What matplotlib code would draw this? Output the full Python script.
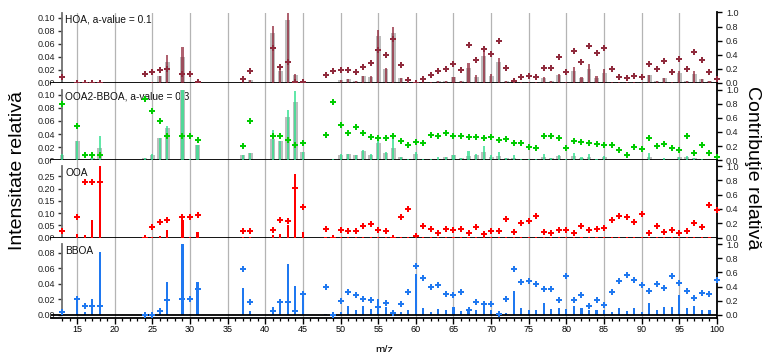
#!/usr/bin/env python3
# PMF factor profiles (stick spectra) with per-m/z relative contribution markers.
import matplotlib
matplotlib.use("Agg")
import matplotlib.pyplot as plt
from matplotlib.ticker import FixedLocator, FormatStrFormatter

plt.rcParams["font.family"] = ["Liberation Sans", "DejaVu Sans"]

FIG_W, FIG_H = 764, 352

MZ = [13, 15, 16, 17, 18, 24, 25, 26, 27, 29, 30, 31, 37, 38, 41, 42, 43, 44, 45,
      48, 49, 50, 51, 52, 53, 54, 55, 56, 57, 58, 59, 60, 61, 62, 63, 64, 65, 66,
      67, 68, 69, 70, 71, 72, 73, 74, 75, 76, 77, 78, 79, 80, 81, 82, 83, 84, 85,
      86, 87, 88, 89, 90, 91, 92, 93, 94, 95, 96, 97, 98, 99, 100]

# HOA: constrained reference (gray), factor profile (sticks), contribution (markers)
HOA_REF = [0.0, 0.0, 0.0, 0.0, 0.0, 0.0005, 0.001, 0.010, 0.0325, 0.040, 0.0, 0.0005, 0.002, 0.004,
           0.077, 0.019, 0.096, 0.012, 0.003,
           0.0005, 0.0005, 0.004, 0.006, 0.0035, 0.010, 0.009, 0.072, 0.022, 0.077, 0.007, 0.002, 0.0,
           0.001, 0.0015, 0.003, 0.0035, 0.009, 0.003, 0.023, 0.009, 0.042, 0.011, 0.032, 0.0025,
           0.0015, 0.0015, 0.001, 0.0015, 0.008, 0.0035, 0.0117, 0.0015, 0.019, 0.0076, 0.022, 0.0076,
           0.016, 0.0015, 0.001, 0.001, 0.0015, 0.001, 0.0117, 0.003, 0.008, 0.002, 0.016, 0.0035,
           0.014, 0.0056, 0.0025, 0.001]
HOA_PROFILE = [0.0, 0.0, 0.0, 0.0, 0.0, 0.0005, 0.001, 0.011, 0.043, 0.055, 0.0005, 0.0005, 0.002, 0.004,
               0.087, 0.024, 0.108, 0.014, 0.005,
               0.0005, 0.0005, 0.004, 0.006, 0.0035, 0.011, 0.011, 0.081, 0.023, 0.086, 0.007, 0.002, 0.0,
               0.001, 0.0015, 0.003, 0.0035, 0.009, 0.003, 0.030, 0.012, 0.051, 0.014, 0.038, 0.0025,
               0.0015, 0.0015, 0.001, 0.0015, 0.009, 0.0035, 0.014, 0.0015, 0.025, 0.009, 0.029, 0.011,
               0.022, 0.0015, 0.001, 0.001, 0.0015, 0.001, 0.012, 0.003, 0.008, 0.002, 0.018, 0.0035,
               0.019, 0.0056, 0.0025, 0.001]
HOA_CONTRIB = [0.08, 0.0, 0.0, 0.0, 0.0, 0.13, 0.15, 0.18, 0.20, 0.13, 0.13, 0.02, 0.05, 0.17,
               0.49, 0.23, 0.30, 0.01, 0.02,
               0.12, 0.17, 0.18, 0.18, 0.15, 0.23, 0.28, 0.47, 0.40, 0.63, 0.26, 0.04, 0.0,
               0.06, 0.12, 0.17, 0.20, 0.27, 0.19, 0.54, 0.32, 0.48, 0.41, 0.59, 0.21,
               0.03, 0.09, 0.10, 0.09, 0.21, 0.21, 0.37, 0.15, 0.46, 0.30, 0.53, 0.42,
               0.49, 0.20, 0.084, 0.065, 0.10, 0.084, 0.27, 0.20, 0.31, 0.15, 0.34, 0.20,
               0.44, 0.33, 0.15, 0.06]

# OOA2-BBOA
OOA2_REF = [0.0086, 0.029, 0.001, 0.004, 0.019, 0.0036, 0.0086, 0.034, 0.050, 0.108, 0.002, 0.024, 0.0076, 0.011,
            0.0325, 0.030, 0.066, 0.089, 0.013,
            0.001, 0.0025, 0.0086, 0.010, 0.0076, 0.0147, 0.0086, 0.027, 0.0117, 0.019, 0.0056, 0.0025, 0.010,
            0.0025, 0.002, 0.0025, 0.0056, 0.008, 0.004, 0.007, 0.008, 0.012, 0.0046, 0.007, 0.003,
            0.004, 0.002, 0.0015, 0.0015, 0.005, 0.003, 0.006, 0.0015, 0.007, 0.004, 0.0056, 0.002,
            0.005, 0.001, 0.001, 0.0005, 0.001, 0.0005, 0.0056, 0.001, 0.002, 0.001, 0.005, 0.005,
            0.0036, 0.0015, 0.001, 0.0005]
OOA2_PROFILE = [0.009, 0.029, 0.001, 0.004, 0.037, 0.003, 0.009, 0.034, 0.052, 0.108, 0.002, 0.024, 0.008, 0.011,
                0.046, 0.030, 0.076, 0.105, 0.013,
                0.001, 0.0025, 0.009, 0.010, 0.0076, 0.015, 0.009, 0.029, 0.013, 0.039, 0.0056, 0.0025, 0.013,
                0.0025, 0.002, 0.005, 0.0056, 0.008, 0.004, 0.0137, 0.010, 0.022, 0.0076, 0.012, 0.003,
                0.008, 0.002, 0.0015, 0.0015, 0.0096, 0.004, 0.008, 0.0015, 0.011, 0.005, 0.0096, 0.002,
                0.0066, 0.001, 0.001, 0.0005, 0.001, 0.0005, 0.011, 0.001, 0.0036, 0.001, 0.005, 0.006,
                0.0036, 0.0015, 0.001, 0.0005]
OOA2_CONTRIB = [0.80, 0.48, 0.07, 0.07, 0.07, 0.87, 0.70, 0.55, 0.34, 0.35, 0.35, 0.29, 0.20, 0.55,
                0.35, 0.35, 0.28, 0.22, 0.24,
                0.36, 0.83, 0.50, 0.39, 0.47, 0.38, 0.33, 0.32, 0.32, 0.34, 0.27, 0.21, 0.26,
                0.25, 0.36, 0.34, 0.38, 0.34, 0.34, 0.33, 0.33, 0.32, 0.33, 0.28, 0.30,
                0.245, 0.245, 0.19, 0.17, 0.35, 0.35, 0.32, 0.18, 0.27, 0.26, 0.245, 0.23,
                0.21, 0.21, 0.14, 0.075, 0.19, 0.155, 0.32, 0.20, 0.23, 0.18, 0.14, 0.35,
                0.11, 0.21, 0.10, 0.04]

# OOA
OOA_PROFILE = [0.0, 0.015, 0.011, 0.073, 0.293, 0.0, 0.001, 0.008, 0.029, 0.070, 0.001, 0.021, 0.001, 0.001,
               0.011, 0.016, 0.051, 0.259, 0.021,
               0.001, 0.0, 0.001, 0.001, 0.001, 0.002, 0.002, 0.002, 0.001, 0.0, 0.001, 0.001, 0.0,
               0.001, 0.001, 0.001, 0.001, 0.001, 0.001, 0.001, 0.001, 0.001, 0.001, 0.001, 0.001,
               0.001, 0.001, 0.001, 0.001, 0.001, 0.001, 0.001, 0.001, 0.001, 0.001, 0.001, 0.001,
               0.001, 0.001, 0.001, 0.001, 0.001, 0.001, 0.001, 0.001, 0.001, 0.001, 0.001, 0.001,
               0.001, 0.001, 0.002, 0.001]
OOA_CONTRIB = [0.093, 0.29, 0.78, 0.78, 0.78, 0.0, 0.145, 0.21, 0.24, 0.29, 0.29, 0.32, 0.09, 0.093,
               0.098, 0.24, 0.23, 0.69, 0.43,
               0.117, 0.0, 0.098, 0.093, 0.093, 0.154, 0.187, 0.098, 0.093, 0.0, 0.29, 0.40, 0.02,
               0.16, 0.117, 0.065, 0.117, 0.103, 0.12, 0.06, 0.14, 0.05, 0.093, 0.093, 0.26,
               0.075, 0.20, 0.23, 0.30, 0.08, 0.065, 0.10, 0.10, 0.056, 0.16, 0.10, 0.12,
               0.135, 0.25, 0.30, 0.285, 0.21, 0.33, 0.06, 0.16, 0.08, 0.10, 0.065, 0.09,
               0.20, 0.15, 0.45, 0.39]

# BBOA
BBOA_PROFILE = [0.001, 0.0225, 0.0034, 0.020, 0.081, 0.0005, 0.0005, 0.004, 0.042, 0.091, 0.0013, 0.0425, 0.034, 0.0055,
                0.010, 0.020, 0.066, 0.037, 0.027,
                0.001, 0.001, 0.004, 0.0115, 0.006, 0.0115, 0.0077, 0.020, 0.010, 0.004, 0.004, 0.006, 0.053,
                0.0085, 0.0034, 0.008, 0.006, 0.010, 0.005, 0.0068, 0.007, 0.0136, 0.006, 0.0026, 0.003,
                0.031, 0.009, 0.0064, 0.0068, 0.015, 0.0072, 0.0085, 0.008, 0.0115, 0.009, 0.0064, 0.006,
                0.0064, 0.004, 0.0085, 0.005, 0.0085, 0.004, 0.016, 0.0068, 0.010, 0.0106, 0.026, 0.0085,
                0.011, 0.006, 0.0068, 0.006]
BBOA_CONTRIB = [0.038, 0.225, 0.13, 0.13, 0.13, 0.005, 0.005, 0.05, 0.21, 0.22, 0.22, 0.37, 0.65, 0.19,
                0.05, 0.18, 0.18, 0.05, 0.29,
                0.39, 0.0, 0.20, 0.32, 0.28, 0.225, 0.21, 0.11, 0.17, 0.03, 0.16, 0.32, 0.69,
                0.52, 0.39, 0.42, 0.30, 0.28, 0.33, 0.065, 0.19, 0.15, 0.16, 0.02, 0.22,
                0.65, 0.465, 0.475, 0.44, 0.36, 0.37, 0.21, 0.55, 0.205, 0.28, 0.12, 0.215,
                0.14, 0.33, 0.475, 0.56, 0.49, 0.42, 0.34, 0.43, 0.38, 0.55, 0.45, 0.34,
                0.245, 0.305, 0.29, 0.49]

PANEL_LABELS = ["HOA, a-value = 0.1", "OOA2-BBOA, a-value = 0.3", "OOA", "BBOA"]

# pixel rows per panel: axes top, data top (1.0 on right axis), zero line, axes bottom
PANEL_ROWS = [
    (12.5, 12.5, 83.0, 83.0),
    (83.0, 89.5, 160.3, 160.3),
    (160.3, 166.0, 237.5, 237.5),
    (237.5, 244.0, 315.0, 317.8),
]
X_LEFT_PX, X_RIGHT_PX = 51, 717
X_MIN, X_MAX = 11.54, 100

TICK_SIZE = 6.5
GRID_COLOR = "#b4b4b4"
AXIS_GRAY = "#707070"


def make_panel(fig, row, profile, contrib, stick_color, marker_color, label,
               left_step, ref=None, stick_alpha=1.0, bottom=False):
    top_px, data_px, zero_px, bot_px = row
    ax = fig.add_axes([X_LEFT_PX / FIG_W, 1 - bot_px / FIG_H,
                       (X_RIGHT_PX - X_LEFT_PX) / FIG_W, (bot_px - top_px) / FIG_H])
    vmax = max(profile + (ref if ref else []))
    span = zero_px - data_px
    ax.set_xlim(X_MIN, X_MAX)
    ax.set_ylim(-(bot_px - zero_px) * vmax / span, (zero_px - top_px) * vmax / span)

    for x in range(15, 100, 5):
        ax.axvline(x, color=GRID_COLOR, lw=0.9, zorder=0)

    if ref is not None:
        ax.bar(MZ, ref, width=0.66, color="#bdbdbd", zorder=2)
    ax.bar(MZ, profile, width=0.28, color=stick_color, alpha=stick_alpha, zorder=3)

    ax.annotate(label, xy=(13, vmax), xytext=(2.3, -4.7), textcoords="offset points",
                ha="left", va="center", fontsize=7.3, color="#111111", zorder=1)

    for side in ("top", "right"):
        ax.spines[side].set_visible(False)
    ax.spines["left"].set_position(("data", 13))
    ax.spines["left"].set_bounds(0, vmax)
    ax.spines["left"].set_color(AXIS_GRAY)
    ax.spines["left"].set_linewidth(1.3)
    ax.spines["bottom"].set_color("black")
    ax.spines["bottom"].set_linewidth(1.3)

    n = int(round(vmax / left_step + 0.49))
    ax.yaxis.set_major_locator(FixedLocator([i * left_step for i in range(n + 1) if i * left_step <= vmax + 1e-9]))
    ax.yaxis.set_major_formatter(FormatStrFormatter("%.2f"))
    ax.tick_params(axis="y", direction="out", length=3, width=1, color="#333333",
                   labelsize=TICK_SIZE, labelcolor="#222222", pad=2)

    if bottom:
        ax.axhline(0, color="black", lw=1.3, zorder=4)
        ax.xaxis.set_major_locator(FixedLocator(list(range(15, 101, 5))))
        ax.xaxis.set_minor_locator(FixedLocator(list(range(13, 101))))
        ax.tick_params(axis="x", which="major", direction="out", length=4, width=1,
                       labelsize=TICK_SIZE, pad=1)
        ax.tick_params(axis="x", which="minor", direction="out", length=2.3, width=0.9)
    else:
        ax.tick_params(axis="x", which="both", bottom=False, labelbottom=False)

    tw = ax.twinx()
    tw.set_ylim(-(bot_px - zero_px) / span, (zero_px - top_px) / span)
    tw.plot(MZ, contrib, linestyle="none", marker="P", ms=4.8, mew=0,
            color=marker_color, clip_on=False, zorder=5)
    for side in ("top", "bottom", "left"):
        tw.spines[side].set_visible(False)
    tw.spines["right"].set_color("black")
    tw.spines["right"].set_linewidth(1.3)
    tw.yaxis.set_major_locator(FixedLocator([0.0, 0.2, 0.4, 0.6, 0.8, 1.0]))
    tw.yaxis.set_major_formatter(FormatStrFormatter("%.1f"))
    tw.tick_params(axis="y", direction="out", length=3.5, width=1,
                   labelsize=TICK_SIZE, labelcolor="#222222", pad=3)
    return ax


def main():
    fig = plt.figure(figsize=(FIG_W / 100, FIG_H / 100), dpi=100)

    make_panel(fig, PANEL_ROWS[0], HOA_PROFILE, HOA_CONTRIB, "#8e1f33", "#8f2a3c",
               PANEL_LABELS[0], 0.02, ref=HOA_REF, stick_alpha=0.7)
    make_panel(fig, PANEL_ROWS[1], OOA2_PROFILE, OOA2_CONTRIB, "#2ee08c", "#00cc00",
               PANEL_LABELS[1], 0.02, ref=OOA2_REF, stick_alpha=0.75)
    make_panel(fig, PANEL_ROWS[2], OOA_PROFILE, OOA_CONTRIB, "#ff0000", "#ff0000",
               PANEL_LABELS[2], 0.05)
    make_panel(fig, PANEL_ROWS[3], BBOA_PROFILE, BBOA_CONTRIB, "#1f78f0", "#1f78f0",
               PANEL_LABELS[3], 0.02, bottom=True)

    fig.text(18 / FIG_W, 1 - 171 / FIG_H, "Intensitate relativă", rotation=90,
             ha="center", va="center", fontsize=14)
    fig.text(752 / FIG_W, 1 - 168 / FIG_H, "Contribuţie relativă", rotation=270,
             ha="center", va="center", fontsize=14)
    fig.text(384 / FIG_W, 1 - 350 / FIG_H, "m/z", ha="center", va="center", fontsize=8)

    fig.savefig("out.png", dpi=100)
    plt.close(fig)


if __name__ == "__main__":
    main()
